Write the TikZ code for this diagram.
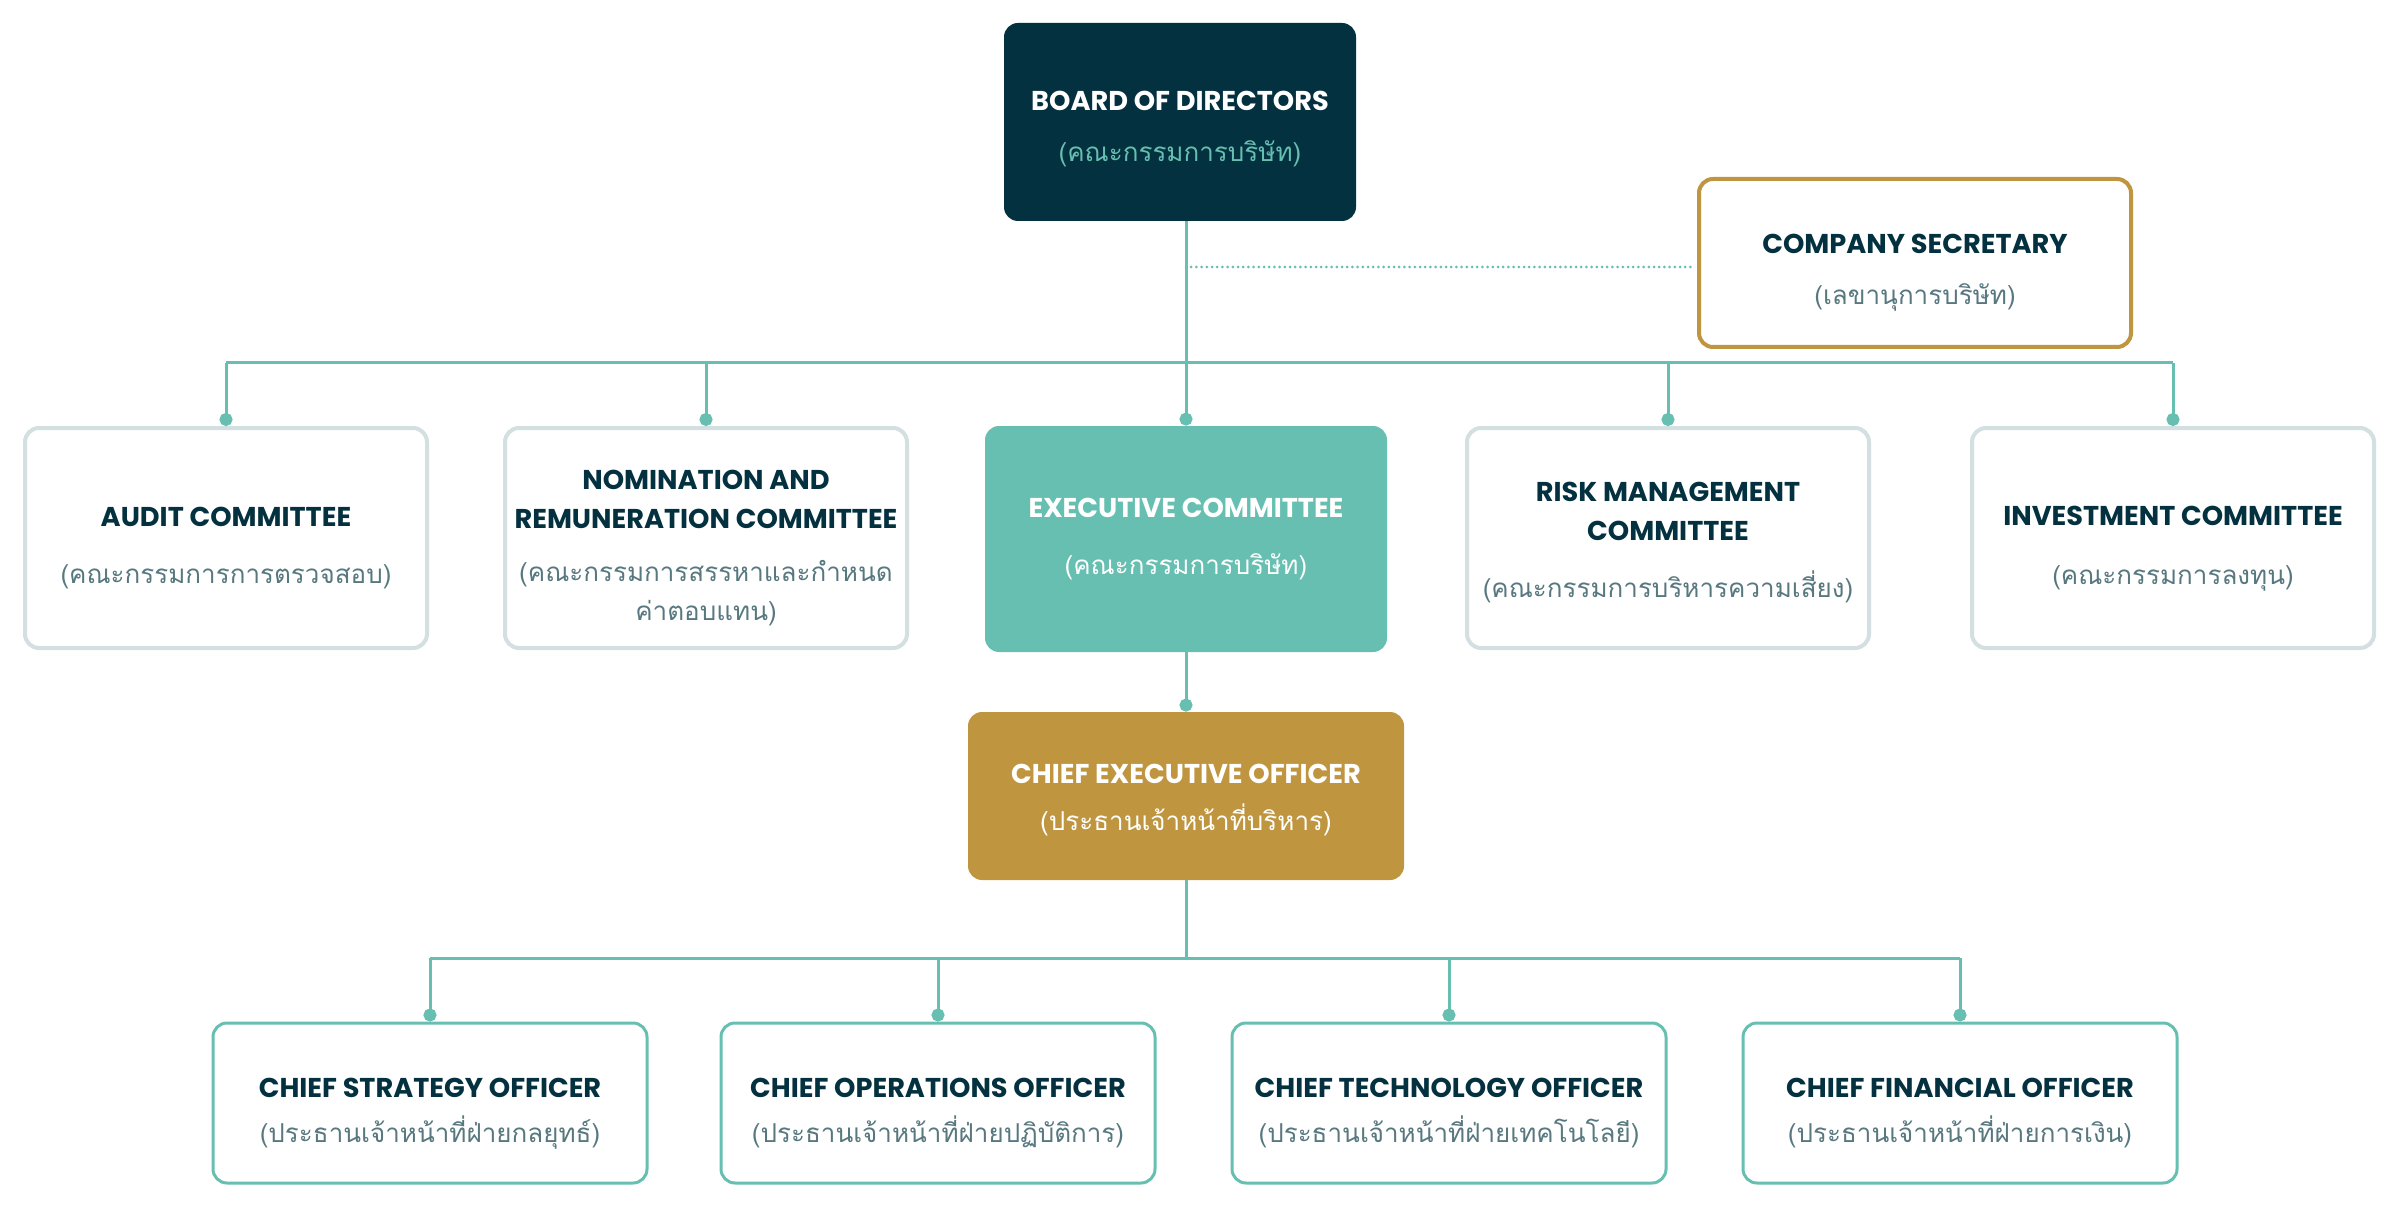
\documentclass[tikz,border=0pt]{standalone}
\usepackage{fontspec}
\setmainfont{Poppins}
\newfontfamily\thaifont[Script=Thai]{Loma}
\usetikzlibrary{arrows.meta}

\definecolor{navy}{HTML}{04313F}
\definecolor{teal}{HTML}{66BFB1}
\definecolor{gold}{HTML}{BF963F}
\definecolor{greyline}{HTML}{D3DFE0}
\definecolor{thaigrey}{HTML}{587880}

% titoli e sottotitoli thai
\newcommand{\ttl}[1]{{\bfseries #1}}
\newcommand{\tttl}[2][20pt]{\rule{0pt}{#1}{\bfseries #2}}
\newcommand{\thsub}[1]{{\thaifont\fontsize{13}{19}\selectfont #1}}

\tikzset{
  box/.style={rectangle, rounded corners=7pt, align=center, inner sep=0pt,
    font=\fontsize{13.6}{19.5}\selectfont},
  boardbox/.style={box, fill=navy, text=white, minimum width=176pt, minimum height=99pt},
  secbox/.style={box, draw=gold, line width=2pt, fill=white, text=navy, minimum width=216pt, minimum height=84pt},
  cmtbox/.style={box, draw=greyline, line width=2pt, fill=white, text=navy, minimum width=201pt, minimum height=110pt},
  execbox/.style={box, fill=teal, text=white, minimum width=201pt, minimum height=113pt},
  ceobox/.style={box, fill=gold, text=white, minimum width=218pt, minimum height=84pt},
  offbox/.style={box, draw=teal, line width=1.5pt, fill=white, text=navy, minimum width=217pt, minimum height=80pt},
  link/.style={draw=teal, line width=1.5pt},
  dotlink/.style={draw=teal, line width=1.5pt, line cap=round, dash pattern=on 0pt off 2.6pt}
}

\begin{document}
\begin{tikzpicture}[x=0.5pt, y=-0.5pt, >={Circle[length=6.5pt]}]
    \useasboundingbox (0,0) rectangle (2400,1209);

    % Vertice
    \node[boardbox] (bod) at (1180,122) {\tttl[17pt]{BOARD OF DIRECTORS}\\[6pt]\textcolor{teal}{\thsub{(คณะกรรมการบริษัท)}}};
    \node[secbox] (sec) at (1915,263) {\tttl[19pt]{COMPANY SECRETARY}\\[6pt]\textcolor{thaigrey}{\thsub{(เลขานุการบริษัท)}}};

    % Comitati
    \node[cmtbox] (audit) at (226,538) {\tttl{AUDIT COMMITTEE}\\[9pt]\textcolor{thaigrey}{\thsub{(คณะกรรมการการตรวจสอบ)}}};
    \node[cmtbox] (nomin) at (706,538) {\tttl{NOMINATION AND}\\\ttl{REMUNERATION COMMITTEE}\\[7pt]\textcolor{thaigrey}{\thsub{(คณะกรรมการสรรหาและกำหนด}}\\\textcolor{thaigrey}{\thsub{ค่าตอบแทน)}}};
    \node[execbox] (exco) at (1186,539) {\ttl{EXECUTIVE COMMITTEE}\\[9pt]\thsub{(คณะกรรมการบริษัท)}};
    \node[cmtbox] (risk) at (1668,538) {\tttl[14pt]{RISK MANAGEMENT}\\\ttl{COMMITTEE}\\[9pt]\textcolor{thaigrey}{\thsub{(คณะกรรมการบริหารความเสี่ยง)}}};
    \node[cmtbox] (invest) at (2173,538) {\tttl{INVESTMENT COMMITTEE}\\[10pt]\textcolor{thaigrey}{\thsub{(คณะกรรมการลงทุน)}}};

    % Direzione
    \node[ceobox] (ceo) at (1186,796) {\tttl[14pt]{CHIEF EXECUTIVE OFFICER}\\[4pt]\thsub{(ประธานเจ้าหน้าที่บริหาร)}};
    \node[offbox] (cso) at (430,1103) {\tttl{CHIEF STRATEGY OFFICER}\\[3pt]\textcolor{thaigrey}{\thsub{(ประธานเจ้าหน้าที่ฝ่ายกลยุทธ์)}}};
    \node[offbox] (coo) at (938,1103) {\tttl{CHIEF OPERATIONS OFFICER}\\[3pt]\textcolor{thaigrey}{\thsub{(ประธานเจ้าหน้าที่ฝ่ายปฏิบัติการ)}}};
    \node[offbox] (cto) at (1449,1103) {\tttl{CHIEF TECHNOLOGY OFFICER}\\[3pt]\textcolor{thaigrey}{\thsub{(ประธานเจ้าหน้าที่ฝ่ายเทคโนโลยี)}}};
    \node[offbox] (cfo) at (1960,1103) {\tttl{CHIEF FINANCIAL OFFICER}\\[3pt]\textcolor{thaigrey}{\thsub{(ประธานเจ้าหน้าที่ฝ่ายการเงิน)}}};

    % Punti di diramazione
    \coordinate (bus) at (1186,363);
    \coordinate (sbus) at (1186,958);
    \coordinate (dotp) at (1186,267);

    % Collegamenti
    \draw[dotlink] (dotp) -- ([xshift=-3pt]dotp -| sec.west);
    \draw[link, ->] (bod.south -| exco.north) -- (exco.north);
    \draw[link] (audit.north |- bus) -- (invest.north |- bus);
    \foreach \c in {audit,nomin,risk,invest} {
        \draw[link, ->] (\c.north |- bus) -- (\c.north);
    }
    \draw[link, ->] (exco.south) -- (ceo.north);
    \draw[link] (ceo.south) -- (sbus);
    \draw[link] (cso.north |- sbus) -- (cfo.north |- sbus);
    \foreach \c in {cso,coo,cto,cfo} {
        \draw[link, ->] (\c.north |- sbus) -- (\c.north);
    }

\end{tikzpicture}
\end{document}
